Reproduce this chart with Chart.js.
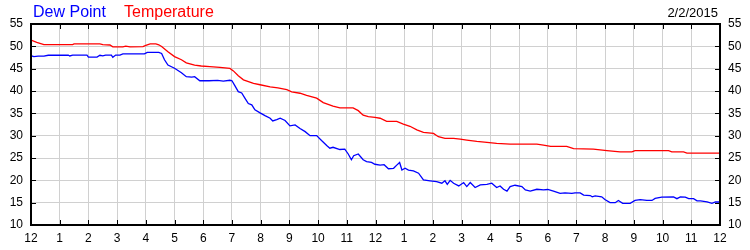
<!DOCTYPE html>
<html>
<head>
<meta charset="utf-8">
<script src="https://cdn.jsdelivr.net/npm/chart.js@4.4.1/dist/chart.umd.min.js"></script>
<style>
    body { margin: 0; background: #fff; }
    #wrap { position: relative; width: 750px; height: 250px; font-family: "Liberation Sans", Arial, sans-serif; }
    .lg { position: absolute; top: 4px; font-size: 16px; line-height: 16px; white-space: nowrap; }
    #date { position: absolute; top: 6px; right: 32px; font-size: 13px; line-height: 13px; color: #000; }
</style>
</head>
<body>
<div id="wrap">
    <canvas id="wxChart" width="750" height="250"></canvas>
    <div class="lg" style="left:33px; color:#0000ff;">Dew Point</div>
    <div class="lg" style="left:124px; color:#ff0000;">Temperature</div>
    <div id="date">2/2/2015</div>
</div>
<script>
// hour labels along the bottom (midnight to midnight)
var hourLabels = ["12", "1", "2", "3", "4", "5", "6", "7", "8", "9", "10", "11",
                  "12", "1", "2", "3", "4", "5", "6", "7", "8", "9", "10", "11", "12"];

// temperature (hours since midnight, degrees)
var tempHours = [0, 0.2, 0.45, 1.45, 1.5, 2.4, 2.5, 2.75, 2.85, 3.2, 3.3, 3.45, 3.9, 4.0, 4.15, 4.35,
    4.45, 4.55, 4.77, 5.0, 5.24, 5.41, 5.7, 5.93, 6.23, 6.58, 6.93, 7.05, 7.22, 7.4, 7.75, 7.98,
    8.33, 8.6, 8.91, 9.08, 9.37, 9.6, 9.95, 10.18, 10.52, 10.76, 11.22, 11.4, 11.57, 11.75, 11.98,
    12.16, 12.39, 12.74, 12.97, 13.2, 13.44, 13.67, 14.02, 14.19, 14.42, 14.72, 14.95, 15.18,
    15.53, 15.88, 16.22, 16.69, 17.62, 17.85, 18.1, 18.66, 18.9, 19.59, 20.06, 20.52, 20.93,
    21.04, 22.21, 22.32, 22.73, 22.85, 24];
var tempValues = [51.4, 50.9, 50.4, 50.4, 50.55, 50.55, 50.4, 50.3, 49.9, 49.9, 50.05, 49.9, 49.95,
    50.2, 50.55, 50.55, 50.35, 49.95, 48.8, 47.7, 47.0, 46.3, 45.8, 45.6, 45.45, 45.3, 45.05,
    44.5, 43.4, 42.5, 41.7, 41.4, 40.9, 40.7, 40.3, 39.8, 39.5, 39.0, 38.4, 37.4, 36.6, 36.2,
    36.2, 35.6, 34.6, 34.25, 34.1, 33.9, 33.2, 33.2, 32.6, 32.1, 31.3, 30.75, 30.5, 29.76, 29.4,
    29.4, 29.23, 29.0, 28.7, 28.5, 28.26, 28.1, 28.1, 27.9, 27.6, 27.6, 27.1, 27.0, 26.65, 26.35,
    26.35, 26.65, 26.65, 26.35, 26.35, 26.1, 26.1];

// dew point
var dewHours = [0, 0.1, 0.25, 0.45, 0.6, 1.3, 1.35, 1.45, 1.95, 2.0, 2.3, 2.4, 2.5, 2.6, 2.8, 2.85,
    2.95, 3.1, 3.2, 3.95, 4.05, 4.45, 4.55, 4.65, 4.77, 5.0, 5.24, 5.41, 5.6, 5.7, 5.88, 6.2, 6.5,
    6.7, 6.93, 7.0, 7.1, 7.22, 7.34, 7.45, 7.57, 7.69, 7.8, 7.98, 8.15, 8.33, 8.42, 8.56, 8.68,
    8.85, 9.02, 9.2, 9.37, 9.55, 9.72, 9.95, 10.12, 10.3, 10.41, 10.52, 10.76, 10.93, 11.05,
    11.16, 11.24, 11.4, 11.57, 11.69, 11.86, 11.98, 12.16, 12.3, 12.45, 12.63, 12.74, 12.84,
    12.92, 13.03, 13.15, 13.32, 13.5, 13.67, 13.9, 14.13, 14.31, 14.42, 14.5, 14.6, 14.72, 14.9,
    15.07, 15.18, 15.3, 15.47, 15.65, 15.88, 16.05, 16.22, 16.34, 16.46, 16.58, 16.69, 16.86,
    17.1, 17.22, 17.39, 17.62, 17.85, 18.0, 18.2, 18.43, 18.6, 18.84, 18.95, 19.13, 19.25, 19.48,
    19.55, 19.65, 19.88, 19.99, 20.17, 20.35, 20.46, 20.61, 20.87, 21.04, 21.22, 21.45, 21.63,
    21.74, 21.97, 22.38, 22.5, 22.62, 22.79, 22.91, 23.08, 23.2, 23.32, 23.55, 23.72, 23.84, 24];
var dewValues = [47.9, 47.7, 47.8, 47.8, 48.0, 48.05, 47.85, 48.05, 48.05, 47.6, 47.6, 48.0, 47.85,
    48.05, 48.05, 47.55, 48.05, 48.05, 48.3, 48.3, 48.65, 48.65, 48.4, 47.0, 45.8, 45.1, 44.1,
    43.2, 43.1, 43.2, 42.3, 42.3, 42.4, 42.2, 42.4, 42.3, 41.2, 39.85, 39.55, 38.4, 37.2, 36.9,
    35.8, 35.1, 34.5, 33.9, 33.3, 33.6, 33.9, 33.4, 32.2, 32.4, 31.6, 30.9, 30.0, 30.0, 28.9,
    27.8, 27.2, 27.4, 26.9, 27.0, 25.9, 24.6, 25.5, 25.9, 24.6, 24.2, 24.0, 23.6, 23.4, 23.5,
    22.6, 22.7, 23.4, 24.0, 22.3, 22.7, 22.3, 22.1, 21.6, 20.1, 19.9, 19.7, 19.35, 19.9, 19.1,
    20.0, 19.35, 18.75, 19.5, 18.6, 19.5, 18.4, 19.0, 19.1, 19.35, 18.4, 18.75, 18.0, 17.6, 18.6,
    18.9, 18.6, 17.85, 17.6, 18.0, 17.85, 17.95, 17.6, 17.07, 17.2, 17.07, 17.2, 17.2, 16.7, 16.6,
    16.3, 16.5, 16.3, 15.7, 15.0, 15.0, 15.5, 14.85, 14.85, 15.5, 15.7, 15.5, 15.5, 15.96, 16.25,
    16.3, 15.9, 16.3, 16.25, 15.9, 15.9, 15.4, 15.4, 15.2, 14.85, 15.15, 15.15];

function toPoints(xs, ys) {
    return xs.map(function (h, i) { return { x: h, y: ys[i] }; });
}

// frame plus the short inward tick marks
var framePlugin = {
    id: "frame",
    afterDraw: function (chart) {
        var ctx = chart.ctx;
        var a = chart.chartArea;
        var xs = chart.scales.x, ys = chart.scales.y;
        ctx.save();
        ctx.strokeStyle = "#000";
        ctx.lineWidth = 1;
        ctx.beginPath();
        xs.ticks.forEach(function (t) {
            var px = Math.round(xs.getPixelForValue(t.value)) + 0.5;
            ctx.moveTo(px, a.bottom); ctx.lineTo(px, a.bottom - 5);
            ctx.moveTo(px, a.top); ctx.lineTo(px, a.top + 5);
        });
        ys.ticks.forEach(function (t) {
            var py = Math.round(ys.getPixelForValue(t.value)) + 0.5;
            ctx.moveTo(a.left, py); ctx.lineTo(a.left + 5, py);
            ctx.moveTo(a.right, py); ctx.lineTo(a.right - 5, py);
        });
        ctx.stroke();
        ctx.lineWidth = 2;
        ctx.strokeRect(a.left, a.top, a.right - a.left, a.bottom - a.top);
        ctx.restore();
    }
};

var tickFont = { family: "'Liberation Sans', Arial, sans-serif", size: 12 };

new Chart(document.getElementById("wxChart").getContext("2d"), {
    type: "line",
    data: {
        datasets: [{
            label: "Dew Point",
            data: toPoints(dewHours, dewValues),
            borderColor: "#0000ff",
            borderWidth: 1.3,
            pointRadius: 0,
            tension: 0
        }, {
            label: "Temperature",
            data: toPoints(tempHours, tempValues),
            borderColor: "#ff0000",
            borderWidth: 1.3,
            pointRadius: 0,
            tension: 0
        }]
    },
    options: {
        responsive: false,
        animation: false,
        devicePixelRatio: 1,
        layout: { padding: { top: 24, left: 0, right: 0, bottom: 0 } },
        plugins: { legend: { display: false }, tooltip: { enabled: false } },
        scales: {
            x: {
                type: "linear",
                min: 0,
                max: 24,
                afterFit: function (s) { s.height = 25; },
                grid: { color: "#d0d0d0", drawTicks: false },
                border: { display: false },
                ticks: {
                    stepSize: 1,
                    autoSkip: false,
                    maxRotation: 0,
                    padding: 6,
                    color: "#000",
                    font: tickFont,
                    callback: function (v) { return hourLabels[v]; }
                }
            },
            y: {
                position: "left",
                min: 10,
                max: 55,
                afterFit: function (s) { s.width = 31; },
                grid: { color: "#d0d0d0", drawTicks: false },
                border: { display: false },
                ticks: { stepSize: 5, padding: 8, color: "#000", font: tickFont }
            },
            y2: {
                position: "right",
                min: 10,
                max: 55,
                afterFit: function (s) { s.width = 30; },
                grid: { drawOnChartArea: false, drawTicks: false },
                border: { display: false },
                ticks: { stepSize: 5, padding: 8, color: "#000", font: tickFont }
            }
        }
    },
    plugins: [framePlugin]
});
</script>
</body>
</html>
